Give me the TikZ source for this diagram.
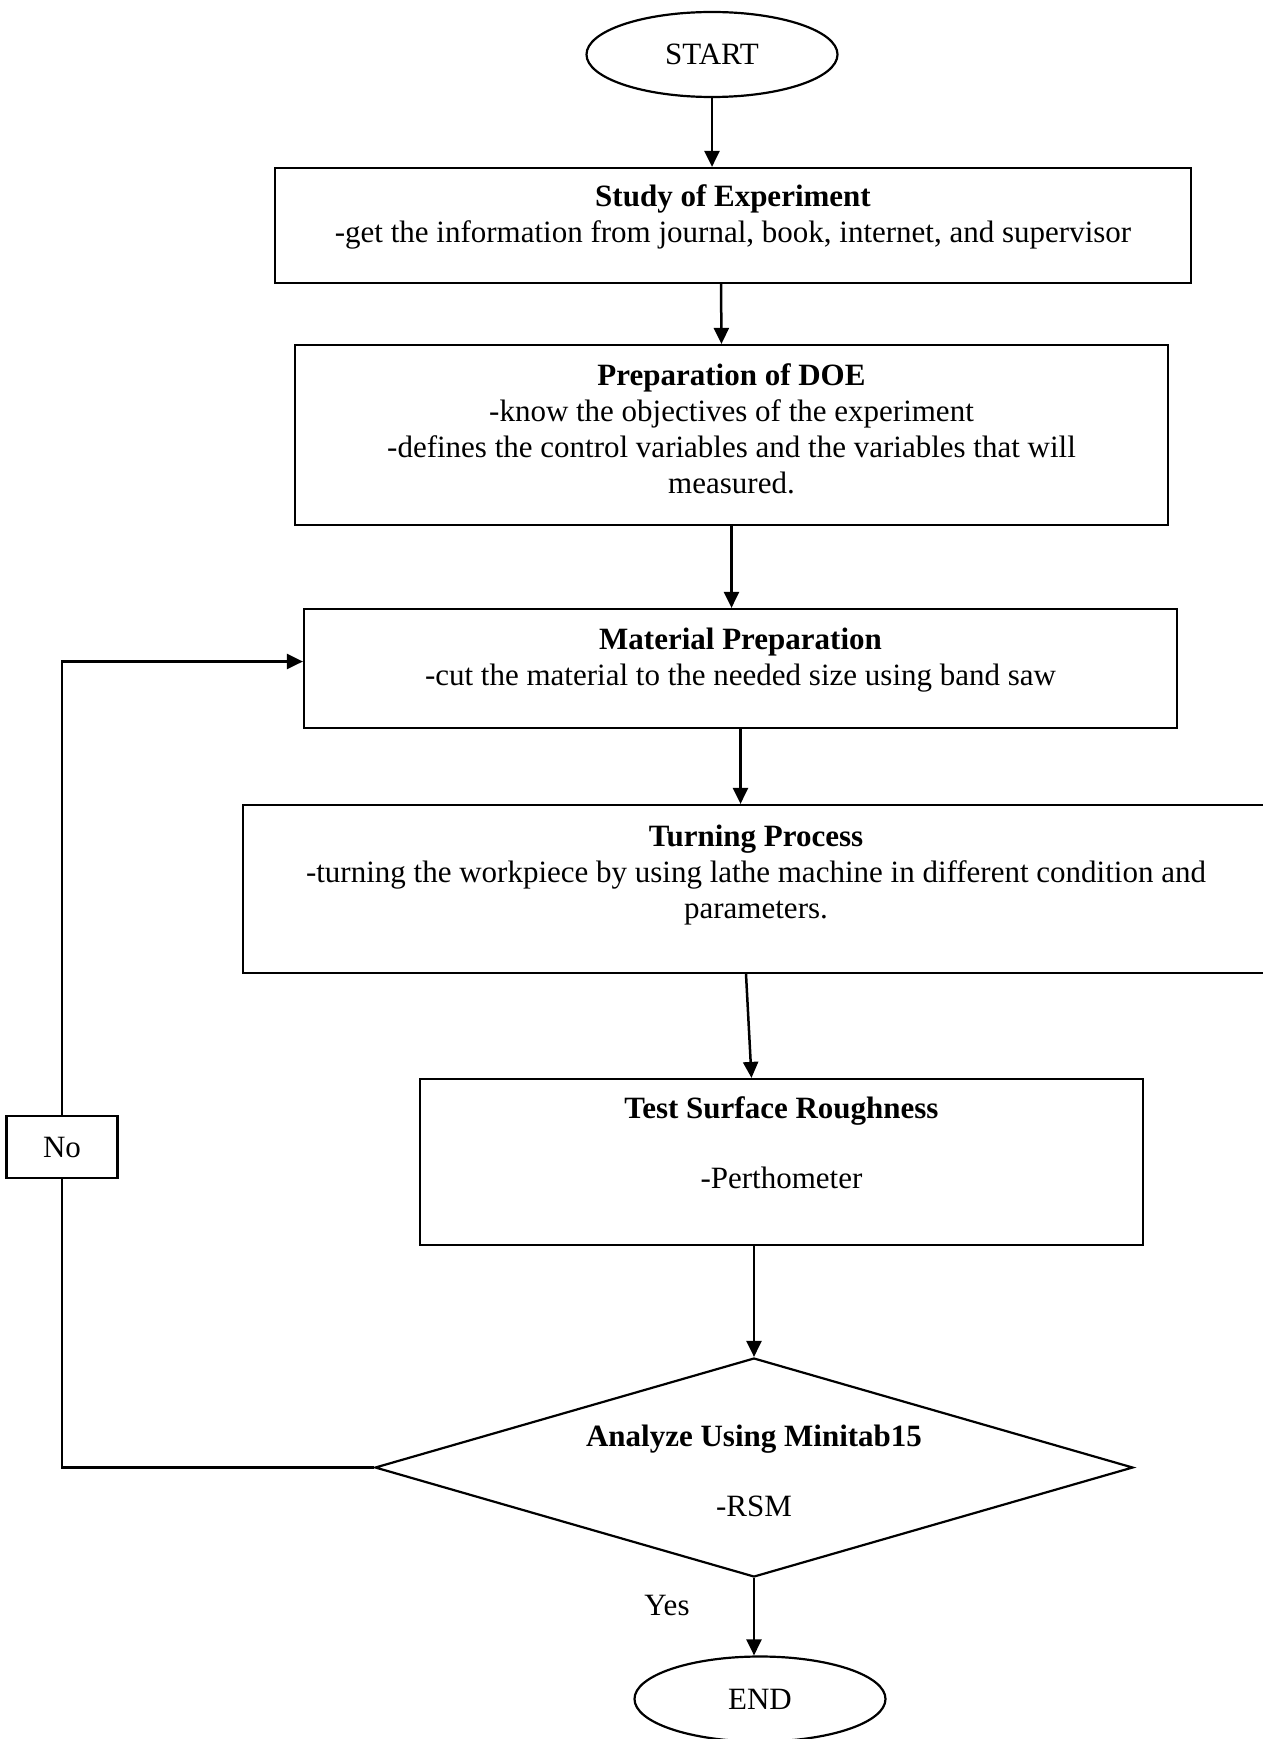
\documentclass[tikz,border=0pt]{standalone}
\usepackage{fontspec}
\setmainfont{Liberation Serif}
\usetikzlibrary{shapes.geometric,arrows.meta,positioning}

\begin{document}
\begin{tikzpicture}[x=1pt,y=-1pt,
        every node/.style={font=\fontsize{31}{36}\selectfont},
        box/.style={draw, line width=2.2pt, rectangle, inner sep=0pt},
        terminal/.style={draw, line width=2.2pt, ellipse, inner sep=0pt, minimum width=251pt, minimum height=85pt},
        decision/.style={draw, line width=2.2pt, diamond, inner sep=0pt, minimum width=758pt, minimum height=219pt},
        txt/.style={anchor=north, inner sep=0pt, align=center},
        flow/.style={line width=2.5pt, -{Triangle[length=16pt,width=15pt]}},
        loopline/.style={line width=2.5pt}]

        \useasboundingbox (0,0) rectangle (1262,1739);

        % start / end
        \node[terminal] (start) at (712,54.5) {START};
        \node[terminal] (end) at (760,1699) {END};

        % boxes
        \node[box, minimum width=916pt, minimum height=115pt] (study) at (733,225.5) {};
        \node[box, minimum width=873pt, minimum height=180pt] (doe) at (731.5,435) {};
        \node[box, minimum width=873pt, minimum height=119pt] (mat) at (740.5,668.5) {};
        \node[box, minimum width=1026pt, minimum height=168pt] (turn) at (756,889) {};
        \node[box, minimum width=723pt, minimum height=166pt] (test) at (781.5,1162) {};
        \node[decision] (dec) at (754,1467.5) {};
        \node[box, minimum width=111pt, minimum height=62pt] (no) at (62,1147) {No};

        % box texts
        \node[txt, below=18pt of study.north] (studytxt) {\textbf{Study of Experiment}\\
            -get the information from journal, book, internet, and supervisor};
        \node[txt, below=20pt of doe.north] (doetxt) {\textbf{Preparation of DOE}\\
            -know the objectives of the experiment\\
            -defines the control variables and the variables that will\\
            measured.};
        \node[txt, below=20pt of mat.north] (mattxt) {\textbf{Material Preparation}\\
            -cut the material to the needed size using band saw};
        \node[txt, below=21pt of turn.north] (turntxt) {\textbf{Turning Process}\\
            -turning the workpiece by using lathe machine in different condition and\\
            parameters.};
        \node[txt, below=19pt of test.north] (testtxt) {\textbf{Test Surface Roughness}\\[34pt]
            -Perthometer};
        \node[txt, below=68pt of dec.north] (dectxt) {\textbf{Analyze Using Minitab15}\\[34pt]
            -RSM};
        \node (yes) at (667,1605) {Yes};

        % arrows
        \draw[flow] (start.south) -- (start.south |- study.north);
        \draw[flow] ([xshift=-12pt]study.south) -- ([xshift=-10pt]doe.north);
        \draw[flow] (doe.south) -- (doe.south |- mat.north);
        \draw[flow] (mat.south) -- (mat.south |- turn.north);
        \draw[flow] ([xshift=-10pt]turn.south) -- ([xshift=-30pt]test.north);
        \draw[flow] (dec.north |- test.south) -- (dec.north);
        \draw[flow] (dec.south) -- (dec.south |- end.north);

        % loop back
        \draw[loopline] (dec.west) -| (no.south);
        \draw[flow] (no.north) |- ([yshift=7pt]mat.west);
    \end{tikzpicture}
\end{document}
